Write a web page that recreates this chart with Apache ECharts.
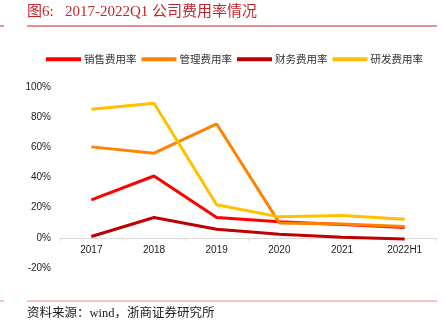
<!DOCTYPE html>
<html>
<head>
<meta charset="utf-8">
<script src="https://cdn.jsdelivr.net/npm/echarts@6/dist/echarts.min.js"></script>
<style>
  html, body { margin: 0; padding: 0; background: #fff; }
  #chart { width: 446px; height: 325px; }
</style>
</head>
<body>
<div id="chart"></div>
<script>
// Expense ratios by year (%)
const categories = ['2017', '2018', '2019', '2020', '2021', '2022H1'];
const sellingRate = [25.2, 41.0, 13.5, 10.6, 8.8, 6.8];
const adminRate   = [60.3, 56.1, 75.5, 9.9, 9.1, 7.5];
const financeRate = [0.9, 13.5, 5.7, 2.4, 0.4, -0.7];
const rdRate      = [85.2, 89.2, 21.9, 13.9, 14.8, 12.4];

const seriesNames  = ['销售费用率', '管理费用率', '财务费用率', '研发费用率'];
const seriesColors = ['#FF0000', '#FF8200', '#C00000', '#FFC000'];
const seriesData   = [sellingRate, adminRate, financeRate, rdRate];

const Y_MIN = -20, Y_MAX = 100, Y_STEP = 20;
const GRID_TOP = 87, GRID_BOTTOM = 57, CHART_H = 325;

const chart = echarts.init(document.getElementById('chart'), null, { renderer: 'canvas' });

const titleColor = '#C0262C';

// Place the category axis on the zero line of the value axis
const plotH = CHART_H - GRID_TOP - GRID_BOTTOM;
const zeroOffset = -plotH * (0 - Y_MIN) / (Y_MAX - Y_MIN);

chart.setOption({
  animation: false,
  backgroundColor: '#ffffff',
  graphic: [
    { type: 'text', left: 27, top: 5,
      style: { text: '图6:   2017-2022Q1 公司费用率情况', fill: titleColor,
               font: '15px "Liberation Serif", "Noto Sans CJK SC", serif' } },
    { type: 'line', shape: { x1: 27, y1: 26, x2: 437, y2: 26 }, style: { stroke: titleColor, lineWidth: 1 } },
    { type: 'line', shape: { x1: 0, y1: 26, x2: 4, y2: 26 }, style: { stroke: titleColor, lineWidth: 1 } },
    { type: 'line', shape: { x1: 27, y1: 301, x2: 437, y2: 301 }, style: { stroke: '#E8888A', lineWidth: 1 } },
    { type: 'line', shape: { x1: 0, y1: 301, x2: 4, y2: 301 }, style: { stroke: '#E8888A', lineWidth: 1 } },
    { type: 'text', left: 27, top: 307,
      style: { text: '资料来源：wind，浙商证券研究所', fill: '#222',
               font: '12.5px "Liberation Serif", "Noto Sans CJK SC", serif' } }
  ],
  legend: {
    top: 54,
    left: 46,
    padding: 0,
    itemWidth: 35,
    itemHeight: 4,
    itemGap: 5,
    icon: 'rect',
    textStyle: { fontSize: 10.5, color: '#333', fontFamily: '"Noto Sans CJK SC", sans-serif', padding: [0, 0, 0, -2] },
    data: seriesNames
  },
  grid: { left: 60, right: 10, top: GRID_TOP, bottom: GRID_BOTTOM, containLabel: false },
  xAxis: {
    type: 'category',
    data: categories,
    boundaryGap: true,
    offset: zeroOffset,
    axisLine: { onZero: false, lineStyle: { color: '#D9D9D9', width: 1 } },
    axisTick: { show: true, length: 3, lineStyle: { color: '#D9D9D9' } },
    axisLabel: { color: '#222', fontSize: 10, fontFamily: '"Liberation Sans", Arial, sans-serif', margin: 7 }
  },
  yAxis: {
    type: 'value',
    min: Y_MIN,
    max: Y_MAX,
    interval: Y_STEP,
    axisLine: { show: false },
    axisTick: { show: false },
    splitLine: { show: false },
    axisLabel: { color: '#222', fontSize: 10, fontFamily: '"Liberation Sans", Arial, sans-serif',
                 margin: 9, formatter: '{value}%' }
  },
  series: seriesNames.map((name, i) => ({
    name: name,
    type: 'line',
    data: seriesData[i],
    color: seriesColors[i],
    symbol: 'none',
    lineStyle: { width: 3, color: seriesColors[i] }
  }))
});
</script>
</body>
</html>
